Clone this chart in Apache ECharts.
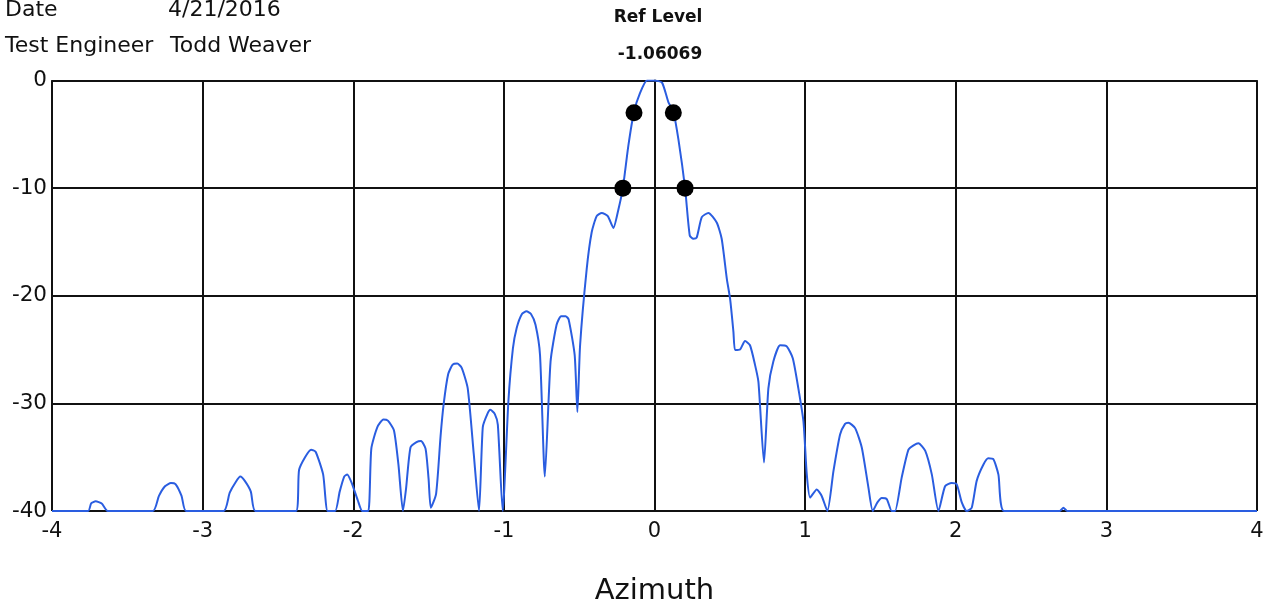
<!DOCTYPE html>
<html>
<head>
<meta charset="utf-8">
<script src="https://cdn.jsdelivr.net/npm/echarts@6/dist/echarts.min.js"></script>
<style>
html,body{margin:0;padding:0;background:#fff;}
#chart{width:1275px;height:611px;}
</style>
</head>
<body>
<div id="chart"></div>
<script>
var azimuth = [
-4,-3.76,-3.74,-3.71,-3.67,-3.63,-3.33,-3.29,-3.25,-3.21,-3.18,-3.14,-3.11,
-2.86,-2.82,-2.78,-2.75,-2.72,-2.68,-2.65,-2.38,-2.36,-2.32,-2.28,-2.25,-2.20,-2.17,
-2.12,-2.09,-2.06,-2.04,-2.01,-1.97,-1.94,-1.90,-1.88,-1.84,-1.80,-1.77,-1.73,-1.70,-1.67,
-1.65,-1.62,-1.58,-1.55,-1.52,-1.50,-1.485,-1.45,-1.42,-1.40,-1.37,-1.34,-1.31,-1.28,-1.24,-1.20,-1.165,
-1.14,-1.11,-1.09,-1.06,-1.04,-1.008,-0.97,-0.94,-0.915,-0.88,-0.85,-0.82,-0.79,-0.76,-0.728,
-0.69,-0.65,-0.62,-0.59,-0.57,-0.53,-0.512,-0.494,-0.45,-0.417,-0.384,-0.35,-0.31,-0.273,-0.24,-0.21,
-0.174,-0.136,-0.097,-0.05,0,0.05,0.092,0.125,0.159,0.203,0.234,0.258,0.28,0.314,0.358,0.413,0.446,
0.48,0.502,0.524,0.535,0.568,0.601,0.634,0.667,0.69,0.727,0.756,0.789,0.834,0.878,0.918,0.955,0.989,
1.011,1.033,1.077,1.11,1.148,1.188,1.232,1.265,1.287,1.332,1.376,1.42,1.449,1.48,1.509,1.542,1.575,
1.597,1.641,1.686,1.72,1.752,1.797,1.841,1.885,1.929,1.973,2.006,2.04,2.073,2.106,2.139,2.183,2.216,
2.25,2.283,2.321,2.69,2.715,2.74,4
];
var level = [
-40,-40,-39.3,-39.1,-39.3,-40,-40,-38.6,-37.7,-37.4,-37.5,-38.6,-40,
-40,-38.3,-37.3,-36.8,-37.2,-38.2,-40,-40,-36.2,-35.0,-34.3,-34.5,-36.6,-40,
-40,-38.2,-36.8,-36.6,-37.4,-39.0,-40,-40,-34.2,-32.2,-31.5,-31.6,-32.5,-35.7,-40,
-38.0,-34.1,-33.6,-33.5,-34.2,-37.0,-39.7,-38.4,-33,-30.1,-27.3,-26.4,-26.3,-26.7,-28.6,-34.7,-40,
-32.2,-31.0,-30.6,-31.0,-32.0,-40,-29.8,-24.9,-23.0,-21.7,-21.45,-21.7,-22.7,-25.5,-36.8,
-26.1,-22.7,-21.9,-21.9,-22.2,-25.5,-30.8,-24.6,-17.5,-14.1,-12.6,-12.3,-12.6,-13.7,-12.0,-10.0,
-6.1,-2.9,-1.2,0,0,-0.2,-2.0,-2.9,-5.5,-10.0,-14.4,-14.7,-14.6,-12.7,-12.3,-13.2,-14.7,
-18.4,-20.3,-23.35,-25.05,-25.0,-24.2,-24.6,-26.4,-28.0,-35.5,-28.6,-26.1,-24.6,-24.7,-25.8,-28.6,-31.7,
-36.6,-38.75,-38.0,-38.6,-40,-36.3,-32.9,-31.9,-31.8,-32.3,-34.1,-37.8,-40,-39.2,-38.8,-38.9,-40,
-40,-36.9,-34.3,-33.9,-33.7,-34.4,-36.6,-40,-37.7,-37.4,-37.5,-39.2,-40,-39.7,-37.2,-35.7,-35.1,
-35.2,-36.6,-40,-40,-39.7,-40,-40
];
var markerAz = [-0.21, -0.136, 0.125, 0.203];
var markerLevel = [-10, -3, -3, -10];
var xTicks = [-4, -3, -2, -1, 0, 1, 2, 3, 4];
var yTicks = [0, -10, -20, -30, -40];
var headerLabels = ['Date', 'Test Engineer'];
var headerValues = ['4/21/2016', 'Todd Weaver'];
var refTitle = 'Ref Level';
var refValue = '-1.06069';
var xName = 'Azimuth';

var lineData = azimuth.map(function(a, i){ return [a, level[i]]; });
var markData = markerAz.map(function(a, i){ return [a, markerLevel[i]]; });

var FONT = 'DejaVu Sans';
var TXT = '#111';
var chart = echarts.init(document.getElementById('chart'));
var axisLine = {show: true, lineStyle: {color: '#111', width: 2}};
var split = {show: true, lineStyle: {color: '#111', width: 2}};
chart.setOption({
  animation: false,
  grid: {left: 52, right: 18, top: 80.5, bottom: 97, containLabel: false},
  xAxis: {
    type: 'value', min: xTicks[0], max: xTicks[xTicks.length-1], interval: 1,
    axisLine: axisLine, splitLine: split,
    axisTick: {show: false},
    axisLabel: {fontFamily: FONT, fontSize: 21, color: TXT, margin: 10,
      formatter: function(v){ return xTicks.indexOf(v) >= 0 ? String(v) : ''; }},
    name: xName, nameLocation: 'middle', nameGap: 66,
    nameTextStyle: {fontFamily: FONT, fontSize: 29, color: TXT}
  },
  yAxis: {
    type: 'value', min: yTicks[yTicks.length-1], max: yTicks[0], interval: 10,
    axisLine: axisLine, splitLine: split,
    axisTick: {show: false},
    axisLabel: {fontFamily: FONT, fontSize: 21.5, color: TXT, margin: 5,
      formatter: function(v){ return yTicks.indexOf(v) >= 0 ? String(v) : ''; }}
  },
  graphic: [
    {type: 'text', x: 5, y: 10, style: {text: headerLabels[0], font: '22px ' + FONT, fill: TXT, textVerticalAlign: 'middle'}},
    {type: 'text', x: 168, y: 10, style: {text: headerValues[0], font: '22px ' + FONT, fill: TXT, textVerticalAlign: 'middle'}},
    {type: 'text', x: 5, y: 46, style: {text: headerLabels[1], font: '22px ' + FONT, fill: TXT, textVerticalAlign: 'middle'}},
    {type: 'text', x: 170, y: 46, style: {text: headerValues[1], font: '22px ' + FONT, fill: TXT, textVerticalAlign: 'middle'}},
    {type: 'text', x: 658, y: 18, style: {text: refTitle, font: 'bold 17px ' + FONT, fill: TXT, textAlign: 'center', textVerticalAlign: 'middle'}},
    {type: 'text', x: 660, y: 55, style: {text: refValue, font: 'bold 17px ' + FONT, fill: TXT, textAlign: 'center', textVerticalAlign: 'middle'}}
  ],
  series: [
    {type: 'line', data: lineData, showSymbol: false, smooth: 0.2,
     lineStyle: {color: '#2a5de0', width: 2}, z: 3},
    {type: 'scatter', data: markData, symbol: 'circle', symbolSize: 17,
     itemStyle: {color: '#000', opacity: 1}, z: 4}
  ]
});
</script>
</body>
</html>
